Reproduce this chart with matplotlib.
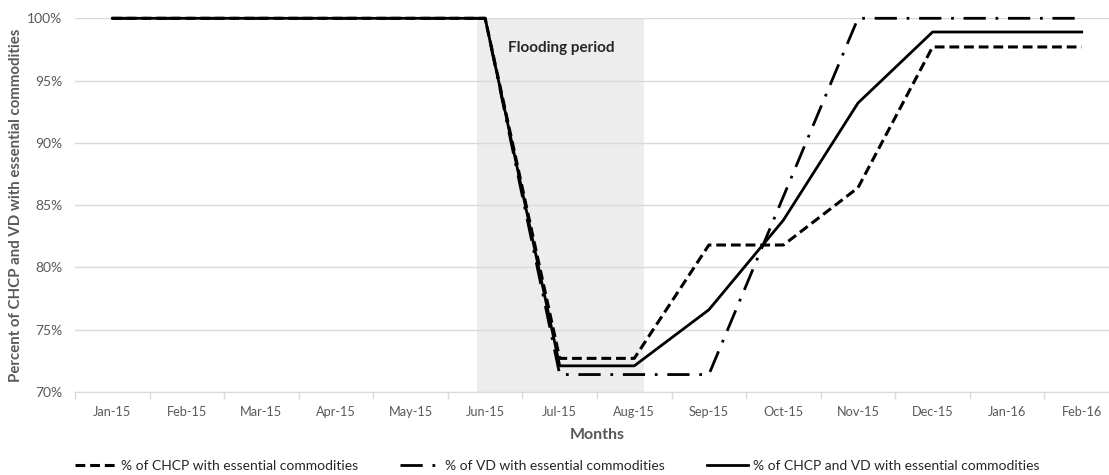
import matplotlib.pyplot as plt
from matplotlib.ticker import FixedLocator, NullFormatter, PercentFormatter

plt.rcParams['font.family'] = ['Lato', 'DejaVu Sans']

months = ['Jan-15', 'Feb-15', 'Mar-15', 'Apr-15', 'May-15', 'Jun-15', 'Jul-15',
          'Aug-15', 'Sep-15', 'Oct-15', 'Nov-15', 'Dec-15', 'Jan-16', 'Feb-16']
chcp = [100, 100, 100, 100, 100, 100, 72.7, 72.7, 81.8, 81.8, 86.4, 97.7, 97.7, 97.7]
vd = [100, 100, 100, 100, 100, 100, 71.4, 71.4, 71.4, 85.7, 100, 100, 100, 100]
both = [100, 100, 100, 100, 100, 100, 72.1, 72.1, 76.6, 83.8, 93.2, 98.9, 98.9, 98.9]
flood_start, flood_end = 4.89, 7.13

grey = '#595959'
grid = '#d9d9d9'

fig = plt.figure(figsize=(11.09, 4.75), dpi=100)
ax = fig.add_axes([75 / 1109, 1 - 392 / 475, 1044 / 1109, 373.7 / 475])

x = list(range(len(months)))
ax.axvspan(flood_start, flood_end, color='#ededed', zorder=0, lw=0)
ax.text(6.02, 97.6, 'Flooding period', ha='center', va='center',
        fontsize=11, fontweight='bold', color='#262626')

l1, = ax.plot(x, chcp, color='black', lw=2.2, dashes=(3.2, 1.6),
              label='% of CHCP with essential commodities', clip_on=False, zorder=3)
l2, = ax.plot(x, vd, color='black', lw=2.0, dashes=(8, 3.5, 1, 3.5),
              label='% of VD with essential commodities', clip_on=False, zorder=3)
l3, = ax.plot(x, both, color='black', lw=2.0,
              label='% of CHCP and VD with essential commodities', clip_on=False, zorder=4)

ax.set_xlim(-0.5, len(months) - 0.5)
ax.set_ylim(70, 100)
ax.set_yticks([70, 75, 80, 85, 90, 95, 100])
ax.yaxis.set_major_formatter(PercentFormatter(decimals=0))
ax.set_xticks(x)
ax.set_xticklabels(months)
ax.xaxis.set_minor_locator(FixedLocator([i + 0.5 for i in range(-1, len(months))]))
ax.xaxis.set_minor_formatter(NullFormatter())
ax.tick_params(axis='x', which='major', length=0, pad=10, labelsize=9.2, labelcolor=grey)
ax.tick_params(axis='x', which='minor', length=5, color=grid, width=1)
ax.tick_params(axis='y', length=0, pad=9, labelsize=10, labelcolor=grey)

ax.grid(axis='y', color=grid, lw=1)
ax.set_axisbelow(True)
for s in ['top', 'right', 'left']:
    ax.spines[s].set_visible(False)
ax.spines['bottom'].set_color(grid)

ax.set_xlabel('Months', fontsize=11.5, fontweight='bold', color=grey, labelpad=7)
ax.set_ylabel('Percent of CHCP and VD with essential commodities', fontsize=10.8,
              fontweight='bold', color=grey, labelpad=3)

fig.legend(handles=[l1, l2, l3], loc='center', bbox_to_anchor=(557 / 1109, 0.02),
           ncol=3, frameon=False, fontsize=10, handlelength=3.0, handletextpad=0.3,
           columnspacing=3.0, labelcolor='#262626')

fig.savefig('out.png', dpi=100)
